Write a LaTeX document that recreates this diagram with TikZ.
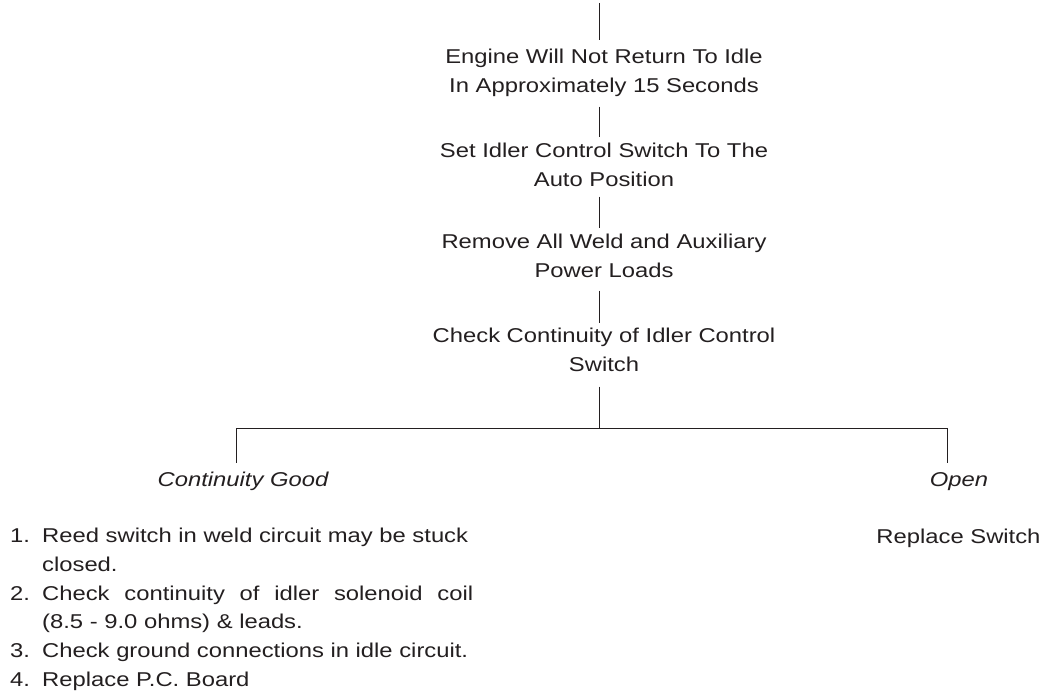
\documentclass[tikz,border=0pt]{standalone}
\usepackage{fontspec}
\setmainfont{Liberation Sans}[FakeStretch=1.19]

\begin{document}
\begin{tikzpicture}[x=1pt, y=-1pt,
    step text/.style={font=\fontsize{20}{28.8}\selectfont, text=inkcolor, align=center, inner sep=0pt, anchor=north},
    branch text/.style={font=\fontsize{20}{28.8}\selectfont\itshape, text=inkcolor, inner sep=0pt, anchor=base},
    link/.style={draw=inkcolor, line width=0.9pt}]
    % Define colors
    \definecolor{inkcolor}{RGB}{35,31,32} % near black

    % Page frame
    \useasboundingbox (0,0) rectangle (1048,693);

    % Main steps
    \coordinate (start) at (599,3);
    \node[step text] (engine) at (604,48.7) {Engine Will Not Return To Idle\\In Approximately 15 Seconds};
    \node[step text] (auto) at (604,142.7) {Set Idler Control Switch To The\\Auto Position};
    \node[step text] (loads) at (604,233.7) {Remove All Weld and Auxiliary\\Power Loads};
    \node[step text] (check) at (604,327.7) {Check Continuity of Idler Control\\Switch};

    % Branch points
    \coordinate (split) at (599,428);
    \coordinate (goodtop) at (236,428);
    \coordinate (opentop) at (947,428);

    % Results
    \node[branch text] (good) at (243,486) {Continuity Good};
    \node[branch text] (open) at (959,486) {Open};
    \node[step text, anchor=base] (replace) at (958.5,543) {Replace Switch};

    \node[step text, align=left, anchor=north west] (actions) at (10,527.7) {%
        \makebox[32pt][l]{1.}Reed switch in weld circuit may be stuck\\
        \hspace*{32pt}closed.\\
        \makebox[32pt][l]{2.}\makebox[431pt][s]{Check continuity of idler solenoid coil}\\
        \hspace*{32pt}(8.5 - 9.0 ohms) \& leads.\\
        \makebox[32pt][l]{3.}Check ground connections in idle circuit.\\
        \makebox[32pt][l]{4.}Replace P.C. Board};

    % Connectors
    \draw[link, shorten >=8.7pt] (start) -- (start |- engine.north);
    \draw[link, shorten <=10pt, shorten >=5.7pt] (start |- engine.south) -- (start |- auto.north);
    \draw[link, shorten <=10pt, shorten >=5.7pt] (start |- auto.south) -- (start |- loads.north);
    \draw[link, shorten <=13pt, shorten >=4.7pt] (start |- loads.south) -- (start |- check.north);
    \draw[link, shorten <=15pt] (start |- check.south) -- (split);
    \draw[link, shorten <=8.7pt, shorten >=8.7pt] (goodtop |- good.north) -- (goodtop) -- (opentop) -- (opentop |- open.north);
\end{tikzpicture}
\end{document}
